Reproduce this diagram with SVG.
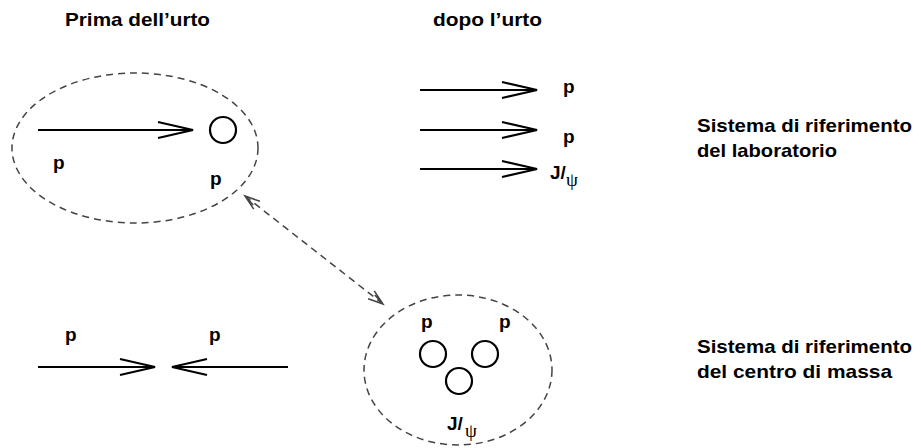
<svg xmlns="http://www.w3.org/2000/svg" width="921" height="448" viewBox="0 0 921 448">
<style>
text{font-family:"Liberation Sans",Arial,sans-serif;font-weight:bold;font-size:19px;fill:#000}
.psi{font-family:"Liberation Serif","Times New Roman",serif;font-weight:normal;font-size:19px}
.arr{stroke:#000;stroke-width:2.2;fill:none}
.ell{stroke:#444;stroke-width:1.5;fill:none;stroke-dasharray:7 5}
.dash{stroke:#444;stroke-width:1.5;fill:none;stroke-dasharray:7 5}
.ball{stroke:#000;stroke-width:2.2;fill:none}
</style>
<defs>
<marker id="chev" markerUnits="userSpaceOnUse" markerWidth="40" markerHeight="20" viewBox="-37 -10 40 20" refX="0" refY="0" orient="auto">
<path d="M-35,-8 L0,0 L-35,8" stroke="#000" stroke-width="2.2" fill="none"/>
</marker>
<marker id="small" markerUnits="userSpaceOnUse" markerWidth="20" markerHeight="14" viewBox="-17 -7 20 14" refX="0" refY="0" orient="auto-start-reverse">
<path d="M-15,-5 L0,0 L-15,5 M-12,-2 L0,0" stroke="#444" stroke-width="1.5" fill="none"/>
</marker>
</defs>

<g id="titles">
<text x="65" y="26" textLength="145" lengthAdjust="spacingAndGlyphs">Prima dell’urto</text>
<text x="433" y="26" textLength="109" lengthAdjust="spacingAndGlyphs">dopo l’urto</text>
</g>

<g id="lab-before">
<ellipse class="ell" cx="135" cy="148" rx="123" ry="75"/>
<circle class="ball" cx="223" cy="130" r="13"/>
<text x="53" y="169">p</text>
<text x="210" y="185">p</text>
</g>

<g id="lab-after">
<text x="563" y="93">p</text>
<text x="563" y="143">p</text>
<text x="550" y="179">J/</text>
<text class="psi" x="566" y="186">ψ</text>
</g>

<g id="cm-before">
<text x="65" y="341">p</text>
<text x="209" y="341">p</text>
</g>

<g id="cm-after">
<ellipse class="ell" cx="458" cy="370" rx="94" ry="75"/>
<circle class="ball" cx="433" cy="354" r="13"/>
<circle class="ball" cx="485" cy="354" r="13"/>
<circle class="ball" cx="459" cy="381" r="13"/>
<text x="421" y="328">p</text>
<text x="499" y="328">p</text>
<text x="447" y="430">J/</text>
<text class="psi" x="465" y="437">ψ</text>
</g>

<g id="labels">
<text x="697" y="132" textLength="215" lengthAdjust="spacingAndGlyphs">Sistema di riferimento</text>
<text x="697" y="157" textLength="140" lengthAdjust="spacingAndGlyphs">del laboratorio</text>
<text x="697" y="353" textLength="215" lengthAdjust="spacingAndGlyphs">Sistema di riferimento</text>
<text x="697" y="378" textLength="195" lengthAdjust="spacingAndGlyphs">del centro di massa</text>
</g>

<g id="connectors">
<line class="arr" x1="38" y1="130" x2="193" y2="130" marker-end="url(#chev)"/>
<line class="arr" x1="420" y1="90" x2="537" y2="90" marker-end="url(#chev)"/>
<line class="arr" x1="420" y1="130" x2="537" y2="130" marker-end="url(#chev)"/>
<line class="arr" x1="420" y1="169" x2="537" y2="169" marker-end="url(#chev)"/>
<line class="arr" x1="38" y1="367" x2="155" y2="367" marker-end="url(#chev)"/>
<line class="arr" x1="288" y1="367" x2="172" y2="367" marker-end="url(#chev)"/>
<line class="dash" x1="245" y1="196" x2="383" y2="304" marker-start="url(#small)" marker-end="url(#small)"/>
</g>
</svg>
